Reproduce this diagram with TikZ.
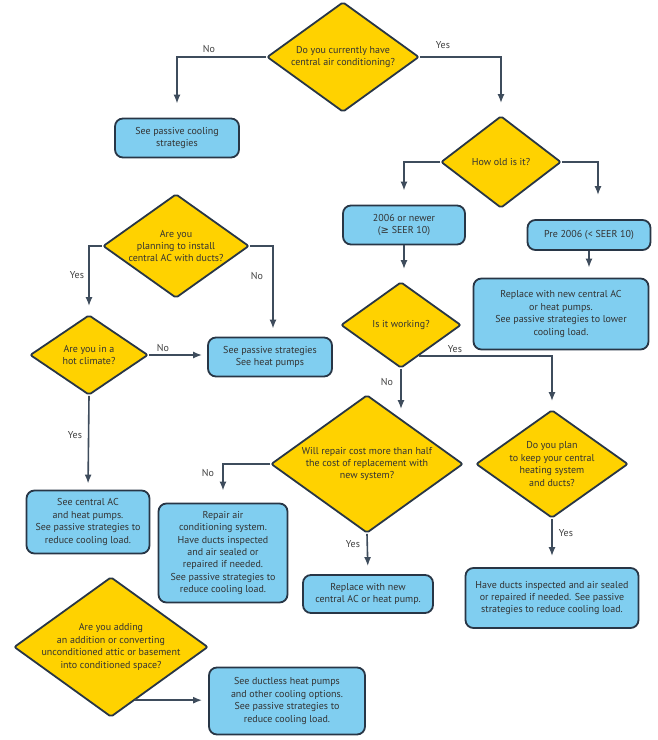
\documentclass[tikz,border=0pt]{standalone}
\definecolor{qyellow}{RGB}{255,210,0}
\definecolor{ablue}{RGB}{128,206,240}
\definecolor{navy}{RGB}{40,54,70}
\definecolor{linegray}{RGB}{62,76,92}
\usepackage{fontspec}
\setmainfont{PT Sans}
\newfontfamily\symfont{DejaVu Sans}
\usepackage{tikz}
\usetikzlibrary{shapes.geometric,arrows.meta,calc}

\tikzset{
  question/.style={diamond, draw=navy, line width=1.8pt, fill=qyellow, rounded corners=2pt,
    inner sep=-40pt, align=center, text=black!80, font=\fontsize{10}{12.4}\selectfont},
  answer/.style={rectangle, draw=navy, line width=1.8pt, fill=ablue, rounded corners=8pt,
    inner sep=0pt, align=center, text=black!80, font=\fontsize{10}{12.4}\selectfont},
  arr/.style={-{Latex[width=7pt,length=9pt]}, line width=1.6pt, linegray},
  lbl/.style={text=black!75, font=\fontsize{10}{12}\selectfont}
}

\begin{document}
\begin{tikzpicture}[x=1pt, y=-1pt]
    \useasboundingbox (0,0) rectangle (657,740);

    \node[question, minimum width=152, minimum height=110] (qhave) at (343,57)
      {Do you currently have\\central air conditioning?};
    \node[answer, minimum width=124, minimum height=39] (bpassive) at (177,138)
      {See passive cooling\\strategies};
    \node[question, minimum width=120, minimum height=92] (qage) at (501,162) {How old is it?};
    \node[answer, minimum width=122, minimum height=39] (bnew) at (404,225)
      {2006 or newer\\({\symfont ≥} SEER 10)};
    \node[answer, minimum width=123, minimum height=30] (bold) at (589,235) {Pre 2006 (< SEER 10)};
    \node[question, minimum width=120, minimum height=86] (qwork) at (401,325) {Is it working?};
    \node[answer, minimum width=175, minimum height=71] (breplace) at (561,314)
      {Replace with new central AC\\or heat pumps.\\See passive strategies to lower\\cooling load.};
    \node[question, minimum width=146, minimum height=104] (qplan) at (176,246)
      {Are you\\planning to install\\central AC with ducts?};
    \node[question, minimum width=118, minimum height=80] (qhot) at (89,355)
      {Are you in a\\hot climate?};
    \node[answer, minimum width=124, minimum height=39] (bheat) at (270,357)
      {See passive strategies\\See heat pumps};
    \node[question, minimum width=192, minimum height=138] (qrepair) at (367,464)
      {Will repair cost more than half\\the cost of replacement with\\new system?};
    \node[question, minimum width=152, minimum height=108] (qkeep) at (552,464)
      {Do you plan\\to keep your central\\heating system\\and ducts?};
    \node[answer, minimum width=123, minimum height=63] (bcentral) at (88,522)
      {See central AC\\and heat pumps.\\See passive strategies to\\reduce cooling load.};
    \node[answer, minimum width=129, minimum height=99] (brepair) at (223,553)
      {Repair air\\conditioning system.\\Have ducts inspected\\and air sealed or\\repaired if needed.\\See passive strategies to\\reduce cooling load.};
    \node[answer, minimum width=130, minimum height=38] (bnewac) at (368,594)
      {Replace with new\\central AC or heat pump.};
    \node[answer, minimum width=173, minimum height=60] (bducts) at (552,598)
      {Have ducts inspected and air sealed\\or repaired if needed. See passive\\strategies to reduce cooling load.};
    \node[question, minimum width=194, minimum height=140] (qadd) at (111,647)
      {Are you adding\\an addition or converting\\unconditioned attic or basement\\into conditioned space?};
    \node[answer, minimum width=156, minimum height=67] (bductless) at (287,701)
      {See ductless heat pumps\\and other cooling options.\\See passive strategies to\\reduce cooling load.};

    \coordinate (workout) at ($(qwork.south)!0.3!(qwork.east)$);
    \coordinate (addout) at ($(qadd.south)!0.25!(qadd.east)$);

    \draw[arr, shorten >=14pt] (qhave.west) -| (bpassive.north);
    \draw[arr, shorten >=12pt] (qhave.east) -| (qage.north);
    \draw[arr, shorten >=14pt] (qage.west) -| (bnew.north);
    \draw[arr, shorten >=24pt] (qage.east) -| ([xshift=9pt]bold.north);
    \draw[arr, shorten >=12pt] (bnew.south) -- (bnew.south |- qwork.north);
    \draw[arr, shorten >=10pt] (bold.south) -- (bold.south |- breplace.north);
    \draw[arr, shorten >=8pt] (workout) -| (qkeep.north);
    \draw[arr, shorten >=-15pt] (qwork.south) -- (qwork.south |- qrepair.north);
    \draw[arr, shorten >=11pt] (qkeep.south) -- (bducts.north);
    \draw[arr, shorten >=8pt] (qrepair.south) -- (bnewac.north);
    \draw[arr, shorten >=12pt] (qrepair.west) -| (brepair.north);
    \draw[arr, shorten >=8pt] (qplan.west) -| (qhot.north);
    \draw[arr, shorten >=8pt] (qplan.east) -| ([xshift=3pt]bheat.north);
    \draw[arr, shorten >=5pt] (qhot.east) -- (qhot.east -| bheat.west);
    \draw[arr, shorten >=6pt] (qhot.south) -- (bcentral.north);
    \draw[arr, shorten >=6pt] (addout) -- (addout -| bductless.west);

    \node[lbl] (lhaveno) at (209,49) {No};
    \node[lbl] (lhaveyes) at (443,45) {Yes};
    \node[lbl] (lplanyes) at (77,275) {Yes};
    \node[lbl] (lplanno) at (257,276) {No};
    \node[lbl] (lhotno) at (163,348) {No};
    \node[lbl] (lhotyes) at (75,435) {Yes};
    \node[lbl] (lworkyes) at (455,349) {Yes};
    \node[lbl] (lworkno) at (387,382) {No};
    \node[lbl] (lrepairno) at (208,473) {No};
    \node[lbl] (lrepairyes) at (353,544) {Yes};
    \node[lbl] (lkeepyes) at (566,533) {Yes};
\end{tikzpicture}
\end{document}
